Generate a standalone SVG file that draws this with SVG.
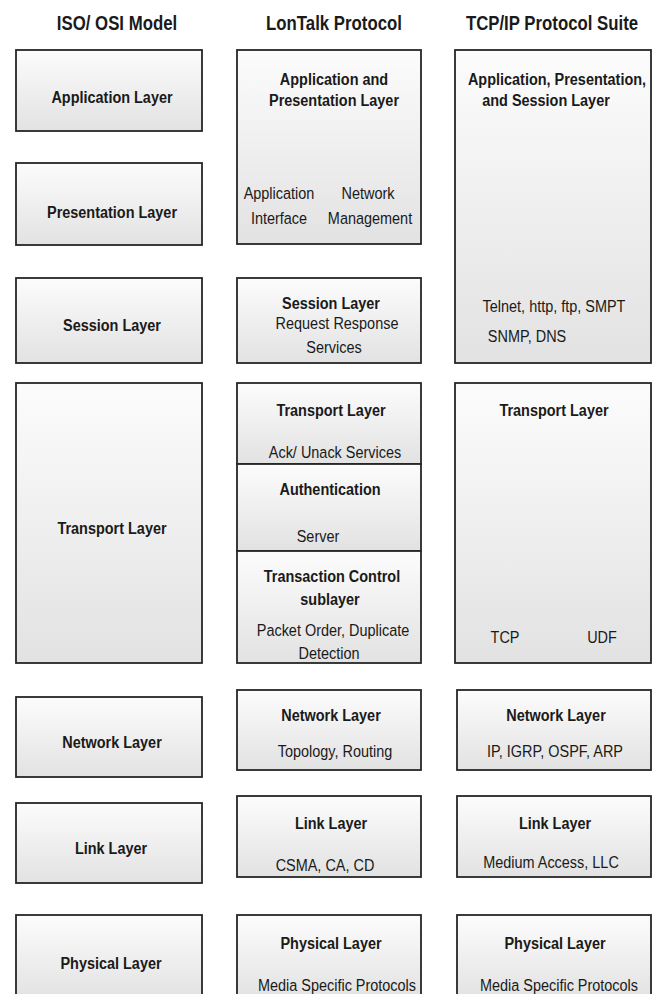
<svg xmlns="http://www.w3.org/2000/svg" width="657" height="994" viewBox="0 0 657 994">
<defs>
<linearGradient id="g" x1="0" y1="0" x2="0" y2="1">
<stop offset="0" stop-color="#fcfcfc"/>
<stop offset="1" stop-color="#e2e2e2"/>
</linearGradient>
</defs>
<style>
.box{fill:url(#g);stroke:#262626;stroke-width:1.8}
text{font-family:"Liberation Sans",Arial,sans-serif;font-size:17px;text-anchor:middle;fill:#1a1a1a}
.b{font-weight:bold}
.n{font-weight:normal}
.t{font-weight:bold;font-size:20px}
</style>
<rect width="657" height="994" fill="#ffffff"/>
<g id="headers">
<text class="t" transform="translate(117,29.5) scale(0.84,1)">ISO/ OSI Model</text>
<text class="t" transform="translate(334,29.5) scale(0.84,1)">LonTalk Protocol</text>
<text class="t" transform="translate(552,29.5) scale(0.84,1)">TCP/IP Protocol Suite</text>
</g>
<g id="osi-application"><rect class="box" x="16" y="50" width="186" height="81"/>
<text class="b" transform="translate(112,103) scale(0.85,1)">Application Layer</text></g>
<g id="osi-presentation"><rect class="box" x="16" y="163" width="186" height="82"/>
<text class="b" transform="translate(112,218) scale(0.85,1)">Presentation Layer</text></g>
<g id="osi-session"><rect class="box" x="16" y="278" width="186" height="85"/>
<text class="b" transform="translate(112,331) scale(0.85,1)">Session Layer</text></g>
<g id="osi-transport"><rect class="box" x="16" y="383" width="186" height="280"/>
<text class="b" transform="translate(112,534) scale(0.85,1)">Transport Layer</text></g>
<g id="osi-network"><rect class="box" x="16" y="697" width="186" height="80"/>
<text class="b" transform="translate(112,748) scale(0.85,1)">Network Layer</text></g>
<g id="osi-link"><rect class="box" x="16" y="803" width="186" height="80"/>
<text class="b" transform="translate(111,854) scale(0.85,1)">Link Layer</text></g>
<g id="osi-physical"><rect class="box" x="16" y="915" width="186" height="85"/>
<text class="b" transform="translate(111,969) scale(0.85,1)">Physical Layer</text></g>

<g id="lon-application"><rect class="box" x="237" y="50" width="184" height="194"/>
<text class="b" transform="translate(334,85) scale(0.85,1)">Application and</text>
<text class="b" transform="translate(334,106) scale(0.85,1)">Presentation Layer</text>
<text class="n" transform="translate(279,199) scale(0.85,1)">Application</text>
<text class="n" transform="translate(279,224) scale(0.85,1)">Interface</text>
<text class="n" transform="translate(368,199) scale(0.85,1)">Network</text>
<text class="n" transform="translate(370,224) scale(0.85,1)">Management</text></g>
<g id="lon-session"><rect class="box" x="237" y="278" width="184" height="85"/>
<text class="b" transform="translate(331,309) scale(0.85,1)">Session Layer</text>
<text class="n" transform="translate(337,329) scale(0.85,1)">Request Response</text>
<text class="n" transform="translate(334,353) scale(0.85,1)">Services</text></g>
<g id="lon-transport"><rect class="box" x="237" y="383" width="184" height="81"/>
<text class="b" transform="translate(331,416) scale(0.85,1)">Transport Layer</text>
<text class="n" transform="translate(335,458) scale(0.85,1)">Ack/ Unack Services</text></g>
<g id="lon-authentication"><rect class="box" x="237" y="464" width="184" height="87"/>
<text class="b" transform="translate(330,495) scale(0.85,1)">Authentication</text>
<text class="n" transform="translate(318,542) scale(0.85,1)">Server</text></g>
<g id="lon-transaction"><rect class="box" x="237" y="551" width="184" height="112"/>
<text class="b" transform="translate(332,582) scale(0.85,1)">Transaction Control</text>
<text class="b" transform="translate(330,605) scale(0.85,1)">sublayer</text>
<text class="n" transform="translate(333,636) scale(0.85,1)">Packet Order, Duplicate</text>
<text class="n" transform="translate(329,659) scale(0.85,1)">Detection</text></g>
<g id="lon-network"><rect class="box" x="237" y="690" width="184" height="80"/>
<text class="b" transform="translate(331,721) scale(0.85,1)">Network Layer</text>
<text class="n" transform="translate(335,757) scale(0.85,1)">Topology, Routing</text></g>
<g id="lon-link"><rect class="box" x="237" y="796" width="184" height="81"/>
<text class="b" transform="translate(331,829) scale(0.85,1)">Link Layer</text>
<text class="n" transform="translate(325,871) scale(0.85,1)">CSMA, CA, CD</text></g>
<g id="lon-physical"><rect class="box" x="237" y="915" width="184" height="85"/>
<text class="b" transform="translate(331,949) scale(0.85,1)">Physical Layer</text>
<text class="n" transform="translate(337,991) scale(0.85,1)">Media Specific Protocols</text></g>

<g id="tcp-application"><rect class="box" x="455" y="50" width="196" height="313"/>
<text class="b" transform="translate(557,85) scale(0.85,1)">Application, Presentation,</text>
<text class="b" transform="translate(546,106) scale(0.85,1)">and Session Layer</text>
<text class="n" transform="translate(554,312) scale(0.85,1)">Telnet, http, ftp, SMPT</text>
<text class="n" transform="translate(527,342) scale(0.85,1)">SNMP, DNS</text></g>
<g id="tcp-transport"><rect class="box" x="455" y="383" width="196" height="280"/>
<text class="b" transform="translate(554,416) scale(0.85,1)">Transport Layer</text>
<text class="n" transform="translate(505,643) scale(0.85,1)">TCP</text>
<text class="n" transform="translate(602,643) scale(0.85,1)">UDF</text></g>
<g id="tcp-network"><rect class="box" x="457" y="690" width="194" height="80"/>
<text class="b" transform="translate(556,721) scale(0.85,1)">Network Layer</text>
<text class="n" transform="translate(555,756.5) scale(0.85,1)">IP, IGRP, OSPF, ARP</text></g>
<g id="tcp-link"><rect class="box" x="457" y="796" width="194" height="81"/>
<text class="b" transform="translate(555,829) scale(0.85,1)">Link Layer</text>
<text class="n" transform="translate(551,868) scale(0.85,1)">Medium Access, LLC</text></g>
<g id="tcp-physical"><rect class="box" x="457" y="915" width="194" height="85"/>
<text class="b" transform="translate(555,949) scale(0.85,1)">Physical Layer</text>
<text class="n" transform="translate(559,991) scale(0.85,1)">Media Specific Protocols</text></g>
</svg>
